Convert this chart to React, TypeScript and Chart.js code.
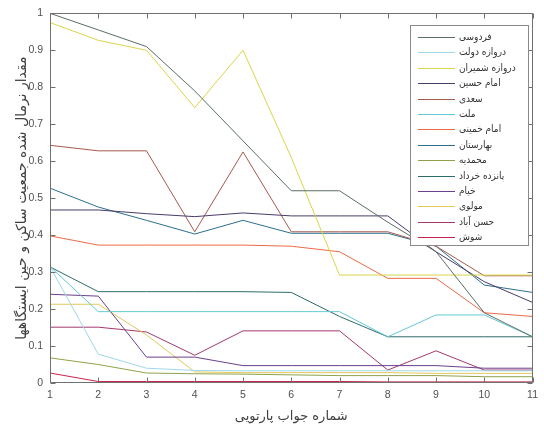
import React, { useEffect, useRef } from "react";
import { Chart, registerables } from "chart.js";

Chart.register(...registerables);

// Pareto solution numbers (x axis)
const solutionNumbers = [1, 2, 3, 4, 5, 6, 7, 8, 9, 10, 11];

// Station names (legend order)
const stationNames = [
  "فردوسی",
  "دروازه دولت",
  "دروازه شمیران",
  "امام حسین",
  "سعدی",
  "ملت",
  "امام خمینی",
  "بهارستان",
  "محمدیه",
  "پانزده خرداد",
  "خیام",
  "مولوی",
  "حسن آباد",
  "شوش",
];

const seriesColors = [
  "#5b6e63",
  "#9fd8ea",
  "#d9d54a",
  "#4a3c6a",
  "#a55a4e",
  "#62c9d6",
  "#eb6a45",
  "#2c6f8f",
  "#8fa24a",
  "#2f6b6b",
  "#6d3f8c",
  "#e3c85a",
  "#a3386e",
  "#c8234e",
];

// Normalized values per station, one per Pareto solution
const ferdowsi = [1.0, 0.955, 0.91, 0.79, 0.655, 0.52, 0.52, 0.435, 0.355, 0.19, 0.125];
const darvazehDolat = [0.315, 0.078, 0.04, 0.034, 0.033, 0.033, 0.033, 0.033, 0.033, 0.033, 0.033];
const darvazehShemiran = [0.975, 0.927, 0.9, 0.745, 0.9, 0.61, 0.292, 0.292, 0.292, 0.292, 0.292];
const emamHossein = [0.468, 0.468, 0.458, 0.45, 0.46, 0.452, 0.452, 0.452, 0.355, 0.274, 0.218];
const saadi = [0.643, 0.628, 0.628, 0.409, 0.625, 0.409, 0.409, 0.409, 0.37, 0.29, 0.29];
const mellat = [0.315, 0.193, 0.193, 0.193, 0.193, 0.193, 0.193, 0.125, 0.184, 0.184, 0.125];
const emamKhomeini = [0.398, 0.373, 0.373, 0.373, 0.373, 0.37, 0.355, 0.283, 0.283, 0.19, 0.18];
const baharestan = [0.527, 0.476, 0.44, 0.403, 0.44, 0.405, 0.405, 0.405, 0.37, 0.265, 0.245];
const mohammadieh = [0.068, 0.05, 0.027, 0.025, 0.024, 0.022, 0.02, 0.02, 0.02, 0.017, 0.017];
const panzdahKhordad = [0.314, 0.247, 0.247, 0.247, 0.247, 0.245, 0.18, 0.125, 0.125, 0.125, 0.125];
const khayyam = [0.24, 0.235, 0.07, 0.07, 0.047, 0.047, 0.047, 0.047, 0.047, 0.04, 0.04];
const molavi = [0.213, 0.213, 0.13, 0.03, 0.028, 0.028, 0.028, 0.028, 0.026, 0.026, 0.026];
const hasanAbad = [0.151, 0.151, 0.138, 0.075, 0.141, 0.141, 0.141, 0.035, 0.087, 0.035, 0.035];
const shush = [0.027, 0.004, 0.004, 0.004, 0.004, 0.004, 0.004, 0.003, 0.003, 0.003, 0.003];

const seriesValues = [
  ferdowsi,
  darvazehDolat,
  darvazehShemiran,
  emamHossein,
  saadi,
  mellat,
  emamKhomeini,
  baharestan,
  mohammadieh,
  panzdahKhordad,
  khayyam,
  molavi,
  hasanAbad,
  shush,
];

const yTickValues = [0, 0.1, 0.2, 0.3, 0.4, 0.5, 0.6, 0.7, 0.8, 0.9, 1];

const xTitle = "شماره جواب پارتویی";
const yTitle = "مقدار نرمال شده جمعیت ساکن و حین ایستگاهها";

const AXIS_COLOR = "#707070";

const frameTicksPlugin = {
  id: "frameTicks",
  afterDatasetsDraw(chart: any) {
    const { ctx, chartArea: a, scales } = chart;
    const xs = scales.x;
    const ys = scales.y;
    ctx.save();
    ctx.strokeStyle = AXIS_COLOR;
    ctx.lineWidth = 1;
    ctx.beginPath();
    const L = Math.round(a.left) + 0.5;
    const R = Math.round(a.right) - 0.5;
    const T = Math.round(a.top) + 0.5;
    const B = Math.round(a.bottom) - 0.5;
    ctx.moveTo(L, T);
    ctx.lineTo(R, T);
    ctx.lineTo(R, B);
    ctx.lineTo(L, B);
    ctx.closePath();
    const len = 5;
    xs.ticks.forEach((_t: any, i: number) => {
      const px = Math.round(xs.getPixelForTick(i)) + 0.5;
      ctx.moveTo(px, B);
      ctx.lineTo(px, B - len);
      ctx.moveTo(px, T);
      ctx.lineTo(px, T + len);
    });
    ys.ticks.forEach((_t: any, i: number) => {
      const py = Math.round(ys.getPixelForTick(i)) + 0.5;
      ctx.moveTo(L, py);
      ctx.lineTo(L + len, py);
      ctx.moveTo(R, py);
      ctx.lineTo(R - len, py);
    });
    ctx.stroke();
    ctx.restore();
  },
};

const boxLegendPlugin = {
  id: "boxLegend",
  afterDraw(chart: any) {
    const ctx = chart.ctx;
    const left = 410;
    const top = 25;
    const w = 118;
    const h = 220;
    const rowH = 15.4;
    ctx.save();
    ctx.fillStyle = "#ffffff";
    ctx.fillRect(left, top, w, h);
    ctx.strokeStyle = "#8a8a8a";
    ctx.lineWidth = 1;
    ctx.strokeRect(left + 0.5, top + 0.5, w, h);
    ctx.font = "10px 'DejaVu Sans Condensed', 'DejaVu Sans'";
    ctx.textBaseline = "middle";
    ctx.textAlign = "left";
    chart.data.datasets.forEach((ds: any, i: number) => {
      const y = Math.round(top + 12 + i * rowH) + 0.5;
      ctx.strokeStyle = ds.borderColor;
      ctx.lineWidth = 1.2;
      ctx.beginPath();
      ctx.moveTo(left + 8, y);
      ctx.lineTo(left + 45, y);
      ctx.stroke();
      ctx.fillStyle = "#333333";
      ctx.fillText(ds.label, left + 49, y);
    });
    ctx.restore();
  },
};

export default function App() {
  const canvasRef = useRef<HTMLCanvasElement | null>(null);

  useEffect(() => {
    if (!canvasRef.current) return;
    const datasets = seriesValues.map((vals, i) => ({
      label: stationNames[i],
      data: vals.map((v, j) => ({ x: solutionNumbers[j], y: v })),
      borderColor: seriesColors[i],
      backgroundColor: seriesColors[i],
      borderWidth: 1,
      pointRadius: 0,
      fill: false,
      tension: 0,
    }));

    const chart = new Chart(canvasRef.current, {
      type: "line",
      data: { datasets },
      options: {
        animation: false,
        responsive: false,
        devicePixelRatio: 1,
        layout: { padding: { top: 13, right: 4, left: 0, bottom: 0 } },
        plugins: {
          legend: { display: false },
          tooltip: { enabled: false },
        },
        scales: {
          x: {
            type: "linear",
            min: 1,
            max: 11,
            afterBuildTicks: (scale: any) => {
              scale.ticks = solutionNumbers.map((v) => ({ value: v }));
            },
            afterFit: (scale: any) => {
              scale.height = 44;
            },
            grid: { display: false, drawTicks: false },
            border: { display: false },
            ticks: {
              padding: 6,
              color: "#505050",
              font: { family: "'Liberation Sans'", size: 10.5 },
              maxRotation: 0,
              autoSkip: false,
              callback: (v: any) => String(v),
            },
            title: {
              display: true,
              text: xTitle,
              color: "#404040",
              font: { family: "'DejaVu Sans'", size: 13 },
              padding: { top: 0, bottom: 3 },
            },
          },
          y: {
            type: "linear",
            min: 0,
            max: 1,
            afterBuildTicks: (scale: any) => {
              scale.ticks = yTickValues.map((v) => ({ value: v }));
            },
            afterFit: (scale: any) => {
              scale.width = 50;
            },
            grid: { display: false, drawTicks: false },
            border: { display: false },
            ticks: {
              padding: 7,
              color: "#505050",
              font: { family: "'Liberation Sans'", size: 10.5 },
              autoSkip: false,
              callback: (v: any) => {
                const n = Number(v);
                if (n === 0) return "0";
                if (n === 1) return "1";
                return n.toFixed(1);
              },
            },
            title: {
              display: true,
              text: yTitle,
              color: "#404040",
              font: { family: "'DejaVu Sans'", size: 14 },
              padding: { top: 14, bottom: 0 },
            },
          },
        },
      },
      plugins: [frameTicksPlugin, boxLegendPlugin],
    });

    return () => {
      chart.destroy();
    };
  }, []);

  return (
    <div
      style={{
        position: "fixed",
        left: 0,
        top: 0,
        width: 544,
        height: 427,
        background: "#ffffff",
      }}
    >
      <canvas ref={canvasRef} width={544} height={427} />
    </div>
  );
}
